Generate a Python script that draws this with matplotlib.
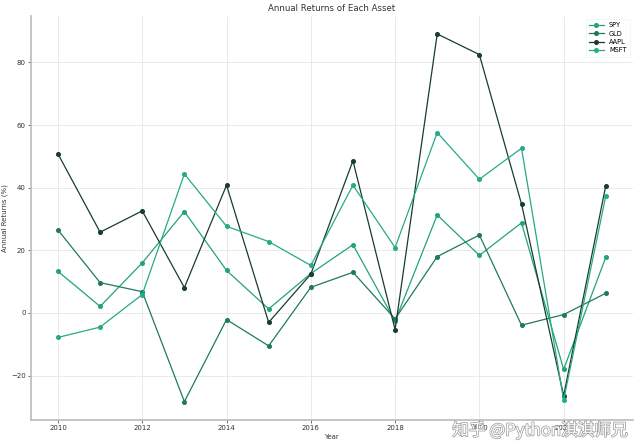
import matplotlib
matplotlib.use("Agg")
import matplotlib.pyplot as plt
import matplotlib.patheffects as pe

years = list(range(2010, 2024))
spy = [13.3, 2.1, 16.0, 32.4, 13.6, 1.3, 12.6, 21.8, -2.6, 31.3, 18.4, 28.8, -18.0, 17.8]
gld = [26.5, 9.7, 6.8, -28.3, -2.1, -10.5, 8.2, 13.0, -1.9, 18.0, 24.9, -3.9, -0.5, 6.3]
aapl = [50.8, 25.8, 32.6, 8.1, 40.8, -3.0, 12.4, 48.6, -5.3, 89.1, 82.5, 34.8, -26.4, 40.7]
msft = [-7.8, -4.5, 5.9, 44.4, 27.7, 22.8, 15.2, 40.8, 20.9, 57.6, 42.7, 52.6, -27.8, 37.4]

names = ["SPY", "GLD", "AAPL", "MSFT"]
series = [spy, gld, aapl, msft]
colors = ["#22a37a", "#1f7a5c", "#173d2f", "#26aa88"]

fig = plt.figure(figsize=(6.37, 4.44), dpi=100)
ax = fig.add_axes([0.048, 0.054, 0.946, 0.911])

for name, vals, c in zip(names, series, colors):
    ax.plot(years, vals, marker="o", markersize=2.6, linewidth=0.9, color=c, label=name)

ax.set_title("Annual Returns of Each Asset", fontsize=6.2, color="#333333", pad=3)
ax.set_xlabel("Year", fontsize=5, color="#333333", labelpad=2)
ax.set_ylabel("Annual Returns (%)", fontsize=5, color="#333333", labelpad=2)
ax.set_xticks(range(2010, 2024, 2))
ax.set_yticks([-20, 0, 20, 40, 60, 80])
ax.tick_params(labelsize=5, length=2, width=0.5, colors="#333333", pad=1.5)
ax.grid(True, color="#e6e6e6", linewidth=0.6)
for s in ["top", "right"]:
    ax.spines[s].set_visible(False)
for s in ["left", "bottom"]:
    ax.spines[s].set_color("#bbbbbb")
    ax.spines[s].set_linewidth(1.2)

leg = ax.legend(loc="upper right", fontsize=4.8, frameon=True, handlelength=2.2,
                borderpad=0.5, labelspacing=0.35, bbox_to_anchor=(1.0, 1.0))
leg.get_frame().set_edgecolor("#eeeeee")
leg.get_frame().set_linewidth(0.5)

fig.text(0.985, 0.01, "知乎 @Python淇淇师兄", ha="right", va="bottom", fontsize=12,
         family=["Noto Sans CJK SC", "DejaVu Sans"], color="white",
         path_effects=[pe.withStroke(linewidth=1.0, foreground="#999999")])

fig.savefig("out.png", dpi=100)
